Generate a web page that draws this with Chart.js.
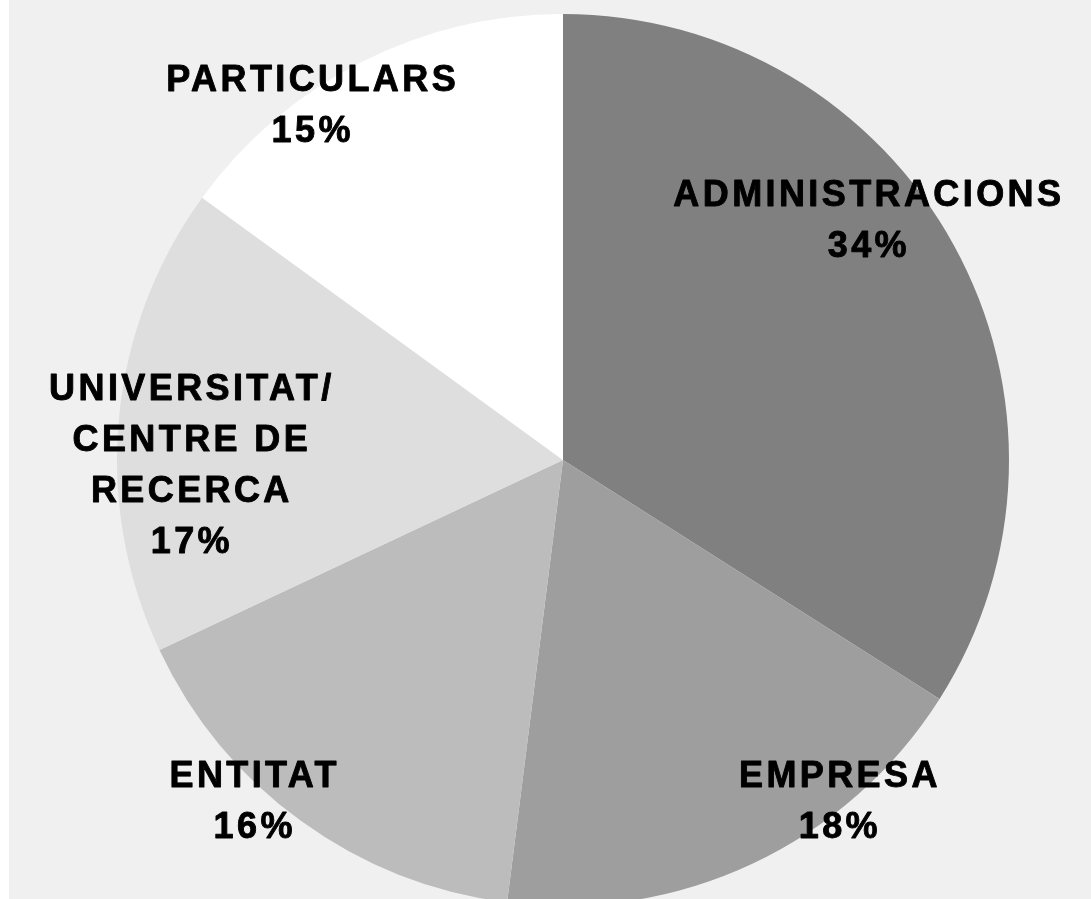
<!DOCTYPE html>
<html>
<head>
<meta charset="utf-8">
<script src="https://cdn.jsdelivr.net/npm/chart.js@4/dist/chart.umd.min.js"></script>
<style>
  html, body { margin: 0; padding: 0; background: #ffffff; overflow: hidden; }
  #wrap { position: absolute; left: 9px; top: 0; width: 1082px; height: 899px; background: #f0f0f0; overflow: hidden; }
  canvas { display: block; }
</style>
</head>
<body>
<div id="wrap"><canvas id="pie" width="1082" height="920"></canvas></div>
<script>
const categories = ['ADMINISTRACIONS', 'EMPRESA', 'ENTITAT', 'UNIVERSITAT/\nCENTRE DE\nRECERCA', 'PARTICULARS'];
const shares = [34, 18, 16, 17, 15];
const sliceColors = ['#808080', '#9e9e9e', '#bcbcbc', '#dedede', '#ffffff'];

// where each label block sits, as a fraction of the radius from the pie centre
const labelOffsets = [[0.682, -0.540], [0.617, 0.762], [-0.695, 0.762], [-0.836, 0.009], [-0.565, -0.798]];

const pieLabels = {
    id: 'pieLabels',
    afterDatasetsDraw(chart) {
        const ctx = chart.ctx;
        const arcs = chart.getDatasetMeta(0).data;
        ctx.save();
        ctx.font = '700 36px "Liberation Sans", Arial, sans-serif';
        ctx.fillStyle = '#000000';
        ctx.strokeStyle = '#000000';
        ctx.lineWidth = 0.9;
        ctx.lineJoin = 'round';
        ctx.textAlign = 'center';
        ctx.textBaseline = 'alphabetic';
        ctx.letterSpacing = '3.4px';
        const lineHeight = 51;
        arcs.forEach((arc, i) => {
            const lines = categories[i].split('\n').concat(shares[i] + '%');
            const cx = arc.x + labelOffsets[i][0] * arc.outerRadius;
            const cy = arc.y + labelOffsets[i][1] * arc.outerRadius;
            let y = cy - (lines.length - 1) * lineHeight / 2 + 12.5;
            lines.forEach(line => {
                ctx.fillText(line, cx + 1.7, y);
                ctx.strokeText(line, cx + 1.7, y);
                y += lineHeight;
            });
        });
        ctx.restore();
    }
};

new Chart(document.getElementById('pie').getContext('2d'), {
    type: 'pie',
    data: {
        labels: categories,
        datasets: [{
            data: shares,
            backgroundColor: sliceColors,
            borderWidth: 0
        }]
    },
    options: {
        responsive: false,
        animation: false,
        layout: { padding: { left: 26, right: 0, top: 14, bottom: 14 } },
        plugins: {
            legend: { display: false },
            tooltip: { enabled: false }
        }
    },
    plugins: [pieLabels]
});
</script>
</body>
</html>
